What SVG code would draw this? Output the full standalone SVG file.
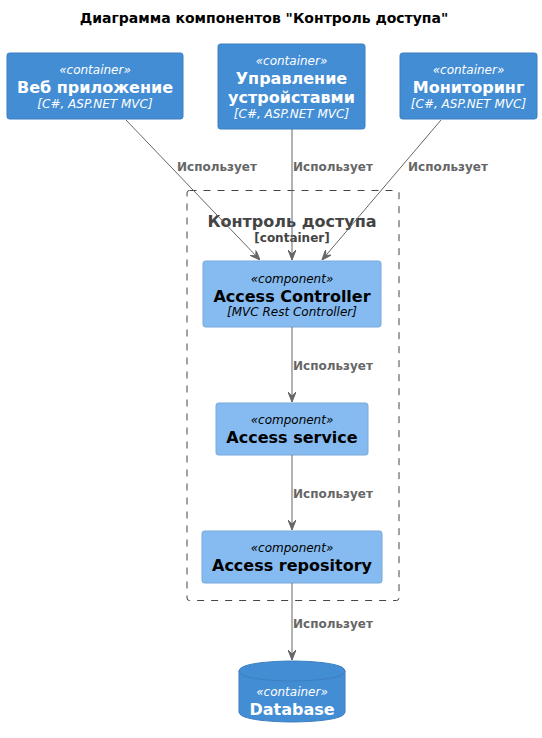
<svg xmlns="http://www.w3.org/2000/svg" width="542" height="738" viewBox="0 0 542 738">
<style>
text{font-family:"DejaVu Sans","Liberation Sans",sans-serif;text-anchor:middle}
.title{font-size:14px;font-weight:bold;fill:#000}
.cont{fill:#438DD5;stroke:#3C7FC0;stroke-width:1}
.comp{fill:#85BBF0;stroke:#78A8D8;stroke-width:1}
.st{font-size:12px;font-style:italic}
.nm{font-size:16px;font-weight:bold}
.w{fill:#FFFFFF}
.b{fill:#000000}
.lbl{font-size:12px;font-weight:bold;fill:#666666;text-anchor:start}
.edge{stroke:#666666;stroke-width:1;fill:none}
.bnd{fill:none;stroke:#444444;stroke-width:1;stroke-dasharray:7,7}
</style>
<defs>
<marker id="arr" markerUnits="userSpaceOnUse" markerWidth="10" markerHeight="8" refX="10" refY="4" orient="auto">
<path d="M0,0 L10,4 L0,8 L4,4 Z" fill="#666666" stroke="#666666" stroke-width="1"/>
</marker>
</defs>
<rect width="542" height="738" fill="#FFFFFF"/>
<text class="title" x="264" y="23">Диаграмма компонентов "Контроль доступа"</text>

<g id="boundary">
<rect class="bnd" x="187" y="190.5" width="212" height="410" rx="2.5" ry="2.5"/>
<text x="292" y="227" style="font-size:16px;font-weight:bold;fill:#444444">Контроль доступа</text>
<text x="292" y="242" style="font-size:12px;font-weight:bold;fill:#444444">[container]</text>
</g>

<g id="web">
<rect class="cont" x="7" y="53" width="176" height="66" rx="2.5" ry="2.5"/>
<text class="st w" x="95" y="74">«container»</text>
<text class="nm w" x="95" y="93">Веб приложение</text>
<text class="st w" x="95" y="108">[C#, ASP.NET MVC]</text>
</g>

<g id="devices">
<rect class="cont" x="218" y="44" width="147" height="85" rx="2.5" ry="2.5"/>
<text class="st w" x="291.5" y="65">«container»</text>
<text class="nm w" x="291.5" y="84">Управление</text>
<text class="nm w" x="291.5" y="103">устройставми</text>
<text class="st w" x="291.5" y="118">[C#, ASP.NET MVC]</text>
</g>

<g id="monitoring">
<rect class="cont" x="400" y="53" width="137" height="66" rx="2.5" ry="2.5"/>
<text class="st w" x="468.5" y="74">«container»</text>
<text class="nm w" x="468.5" y="93">Мониторинг</text>
<text class="st w" x="468.5" y="108">[C#, ASP.NET MVC]</text>
</g>

<g id="access_controller">
<rect class="comp" x="203" y="261" width="178" height="66" rx="2.5" ry="2.5"/>
<text class="st b" x="292" y="283">«component»</text>
<text class="nm b" x="292" y="302">Access Controller</text>
<text class="st b" x="292" y="316">[MVC Rest Controller]</text>
</g>

<g id="access_service">
<rect class="comp" x="216" y="403" width="152" height="52" rx="2.5" ry="2.5"/>
<text class="st b" x="292" y="424">«component»</text>
<text class="nm b" x="292" y="443">Access service</text>
</g>

<g id="access_repository">
<rect class="comp" x="202" y="531" width="180" height="52" rx="2.5" ry="2.5"/>
<text class="st b" x="292" y="552">«component»</text>
<text class="nm b" x="292" y="571">Access repository</text>
</g>

<g id="database">
<path class="cont" d="M239,671 C239,661 292,661 292,661 C292,661 345,661 345,671 L345,712 C345,722 292,722 292,722 C292,722 239,722 239,712 Z"/>
<path d="M239,671 C239,681 292,681 292,681 C292,681 345,681 345,671" fill="none" stroke="#3C7FC0" stroke-width="1"/>
<text class="st w" x="292" y="696">«container»</text>
<text class="nm w" x="292" y="715">Database</text>
</g>

<g id="connectors">
<line class="edge" x1="126" y1="120" x2="260" y2="260" marker-end="url(#arr)"/>
<text class="lbl" x="177" y="171">Использует</text>
<line class="edge" x1="292" y1="129" x2="292" y2="260" marker-end="url(#arr)"/>
<text class="lbl" x="293" y="171">Использует</text>
<line class="edge" x1="441" y1="120" x2="322" y2="260" marker-end="url(#arr)"/>
<text class="lbl" x="408" y="171">Использует</text>
<line class="edge" x1="292" y1="327" x2="292" y2="402" marker-end="url(#arr)"/>
<text class="lbl" x="293" y="370">Использует</text>
<line class="edge" x1="292" y1="455" x2="292" y2="530" marker-end="url(#arr)"/>
<text class="lbl" x="293" y="498">Использует</text>
<line class="edge" x1="292" y1="583" x2="292" y2="660" marker-end="url(#arr)"/>
<text class="lbl" x="293" y="628">Использует</text>
</g>
</svg>
